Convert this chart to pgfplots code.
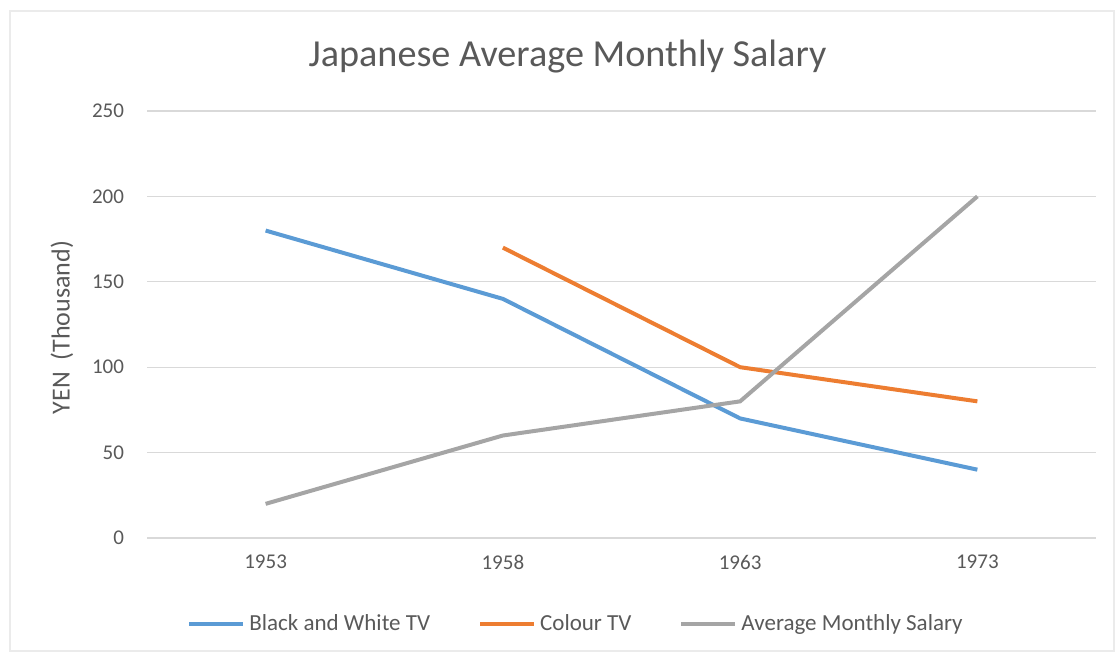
\documentclass[border=0pt]{standalone}
\usepackage{fontspec}
\setmainfont{Carlito}
\usepackage{pgfplots}
\pgfplotsset{compat=1.18}
\definecolor{cblue}{HTML}{5B9BD5}
\definecolor{corange}{HTML}{ED7D31}
\definecolor{cgray}{HTML}{A5A5A5}
\definecolor{ctext}{HTML}{595959}
\definecolor{cgrid}{HTML}{D9D9D9}
\begin{document}
\begin{tikzpicture}
\useasboundingbox (0,0) rectangle (559.5pt,328.5pt);
\draw[black!8, line width=0.8pt] (5pt,3pt) rectangle (557pt,323pt);
\begin{axis}[
  at={(73.5pt,59.5pt)}, anchor=south west,
  scale only axis,
  width=474.5pt, height=213.5pt,
  xmin=-0.5, xmax=3.5, ymin=0, ymax=250,
  xtick={0,1,2,3}, xticklabels={1953,1958,1963,1973},
  ytick={0,50,100,150,200,250},
  /pgf/number format/assume math mode=true,
  ymajorgrids, grid style={cgrid, line width=0.6pt},
  axis line style={draw=none},
  major tick length=0pt,
  tick label style={font=\fontsize{10.5}{12}\selectfont, text=ctext},
  yticklabel style={xshift=-8pt},
  xticklabel style={yshift=-5pt},
  legend columns=3,
  legend style={at={(axis description cs:0.4531,-0.2014)}, anchor=center, draw=none, fill=none,
    font=\fontsize{11.5}{13}\selectfont, text=ctext,
    /tikz/every even column/.append style={column sep=22pt}},
  legend cell align=left,
  legend image code/.code={\draw[#1, line width=2pt] (0pt,0pt) -- (27pt,0pt);},
]
\addplot[cblue, line width=2pt] coordinates {(0,180) (1,140) (2,70) (3,40)};
\addlegendentry{Black and White TV}
\addplot[corange, line width=2pt] coordinates {(1,170) (2,100) (3,80)};
\addlegendentry{Colour TV}
\addplot[cgray, line width=2pt] coordinates {(0,20) (1,60) (2,80) (3,200)};
\addlegendentry{Average Monthly Salary}
\end{axis}
\node[text=ctext, font=\fontsize{19.1}{23}\selectfont] at (283.75pt,300pt) {Japanese Average Monthly Salary};
\node[text=ctext, font=\fontsize{13}{15}\selectfont, rotate=90] at (31pt,164.75pt) {YEN\ \ (Thousand)};
\end{tikzpicture}
\end{document}
